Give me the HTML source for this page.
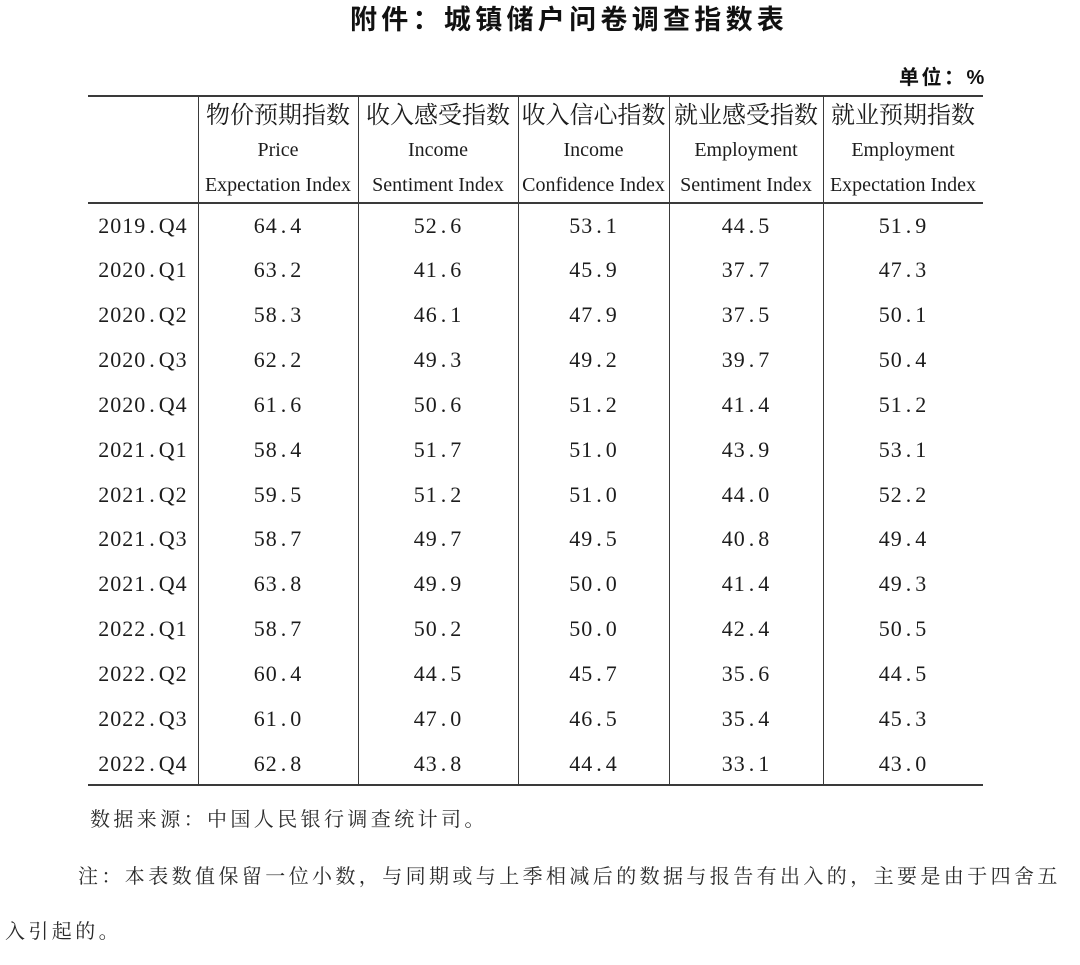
<!DOCTYPE html>
<html>
<head>
<meta charset="utf-8">
<style>
  html,body{margin:0;padding:0;background:#fff;}
  #c{position:relative;width:1080px;height:965px;overflow:hidden;background:#fff;color:#1c1c1c;}
  .abs{position:absolute;white-space:nowrap;}
  .title{left:350px;top:0px;height:40px;line-height:40px;font-family:"Liberation Sans","Noto Sans CJK SC",sans-serif;font-weight:bold;font-size:27px;letter-spacing:4.3px;color:#111;}
  .unit{left:899px;top:63px;height:30px;line-height:30px;font-family:"Liberation Sans","Noto Sans CJK SC",sans-serif;font-weight:bold;font-size:20px;letter-spacing:2.5px;color:#111;}
  .h{background:#3a3a3a;height:2px;left:88px;width:895px;}
  .v{background:#3a3a3a;width:1.5px;top:96px;height:690px;}
  .hc{font-family:"Liberation Serif","Noto Serif CJK SC",serif;font-size:24px;text-align:center;height:30px;line-height:30px;color:#1c1c1c;}
  .he{font-family:"Liberation Serif",serif;font-size:20px;text-align:center;height:30px;line-height:30px;color:#1c1c1c;}
  .row{position:absolute;left:88px;width:895px;height:44.85px;}
  .cell{position:absolute;top:0;height:44.85px;line-height:44.85px;text-align:center;font-family:"Liberation Serif",serif;font-size:22px;letter-spacing:1px;color:#1c1c1c;}
  .d{padding:0 3px 0 3px;}
  .c0{left:0;width:110px;}
  .c1{left:110px;width:160px;}
  .c2{left:270px;width:160px;}
  .c3{left:430px;width:151px;}
  .c4{left:581px;width:154px;}
  .c5{left:735px;width:160px;}
  .note{font-family:"Liberation Serif","Noto Serif CJK SC",serif;font-size:20px;letter-spacing:3.4px;color:#2a2a2a;height:30px;line-height:30px;}
</style>
</head>
<body>
<div id="c">
  <div class="abs title">附件：城镇储户问卷调查指数表</div>
  <div class="abs unit">单位：%</div>

  <div class="abs h" style="top:94.5px;"></div>
  <div class="abs h" style="top:201.5px;"></div>
  <div class="abs h" style="top:784px;"></div>

  <div class="abs v" style="left:197.5px;"></div>
  <div class="abs v" style="left:357.5px;"></div>
  <div class="abs v" style="left:517.5px;"></div>
  <div class="abs v" style="left:668.5px;"></div>
  <div class="abs v" style="left:822.5px;"></div>

  <!-- header Chinese -->
  <div class="abs hc" style="left:198px;width:160px;top:101px;">物价预期指数</div>
  <div class="abs hc" style="left:358px;width:160px;top:101px;">收入感受指数</div>
  <div class="abs hc" style="left:518px;width:151px;top:101px;">收入信心指数</div>
  <div class="abs hc" style="left:669px;width:154px;top:101px;">就业感受指数</div>
  <div class="abs hc" style="left:823px;width:160px;top:101px;">就业预期指数</div>
  <!-- header English line 1 -->
  <div class="abs he" style="left:198px;width:160px;top:135px;">Price</div>
  <div class="abs he" style="left:358px;width:160px;top:135px;">Income</div>
  <div class="abs he" style="left:518px;width:151px;top:135px;">Income</div>
  <div class="abs he" style="left:669px;width:154px;top:135px;">Employment</div>
  <div class="abs he" style="left:823px;width:160px;top:135px;">Employment</div>
  <!-- header English line 2 -->
  <div class="abs he" style="left:198px;width:160px;top:170px;">Expectation Index</div>
  <div class="abs he" style="left:358px;width:160px;top:170px;">Sentiment Index</div>
  <div class="abs he" style="left:518px;width:151px;top:170px;">Confidence Index</div>
  <div class="abs he" style="left:669px;width:154px;top:170px;">Sentiment Index</div>
  <div class="abs he" style="left:823px;width:160px;top:170px;">Expectation Index</div>

  <!-- data rows -->
  <div class="row" style="top:203.5px;"><div class="cell c0">2019<span class="d">.</span>Q4</div><div class="cell c1">64<span class="d">.</span>4</div><div class="cell c2">52<span class="d">.</span>6</div><div class="cell c3">53<span class="d">.</span>1</div><div class="cell c4">44<span class="d">.</span>5</div><div class="cell c5">51<span class="d">.</span>9</div></div>
  <div class="row" style="top:248.35px;"><div class="cell c0">2020<span class="d">.</span>Q1</div><div class="cell c1">63<span class="d">.</span>2</div><div class="cell c2">41<span class="d">.</span>6</div><div class="cell c3">45<span class="d">.</span>9</div><div class="cell c4">37<span class="d">.</span>7</div><div class="cell c5">47<span class="d">.</span>3</div></div>
  <div class="row" style="top:293.2px;"><div class="cell c0">2020<span class="d">.</span>Q2</div><div class="cell c1">58<span class="d">.</span>3</div><div class="cell c2">46<span class="d">.</span>1</div><div class="cell c3">47<span class="d">.</span>9</div><div class="cell c4">37<span class="d">.</span>5</div><div class="cell c5">50<span class="d">.</span>1</div></div>
  <div class="row" style="top:338.05px;"><div class="cell c0">2020<span class="d">.</span>Q3</div><div class="cell c1">62<span class="d">.</span>2</div><div class="cell c2">49<span class="d">.</span>3</div><div class="cell c3">49<span class="d">.</span>2</div><div class="cell c4">39<span class="d">.</span>7</div><div class="cell c5">50<span class="d">.</span>4</div></div>
  <div class="row" style="top:382.9px;"><div class="cell c0">2020<span class="d">.</span>Q4</div><div class="cell c1">61<span class="d">.</span>6</div><div class="cell c2">50<span class="d">.</span>6</div><div class="cell c3">51<span class="d">.</span>2</div><div class="cell c4">41<span class="d">.</span>4</div><div class="cell c5">51<span class="d">.</span>2</div></div>
  <div class="row" style="top:427.75px;"><div class="cell c0">2021<span class="d">.</span>Q1</div><div class="cell c1">58<span class="d">.</span>4</div><div class="cell c2">51<span class="d">.</span>7</div><div class="cell c3">51<span class="d">.</span>0</div><div class="cell c4">43<span class="d">.</span>9</div><div class="cell c5">53<span class="d">.</span>1</div></div>
  <div class="row" style="top:472.6px;"><div class="cell c0">2021<span class="d">.</span>Q2</div><div class="cell c1">59<span class="d">.</span>5</div><div class="cell c2">51<span class="d">.</span>2</div><div class="cell c3">51<span class="d">.</span>0</div><div class="cell c4">44<span class="d">.</span>0</div><div class="cell c5">52<span class="d">.</span>2</div></div>
  <div class="row" style="top:517.45px;"><div class="cell c0">2021<span class="d">.</span>Q3</div><div class="cell c1">58<span class="d">.</span>7</div><div class="cell c2">49<span class="d">.</span>7</div><div class="cell c3">49<span class="d">.</span>5</div><div class="cell c4">40<span class="d">.</span>8</div><div class="cell c5">49<span class="d">.</span>4</div></div>
  <div class="row" style="top:562.3px;"><div class="cell c0">2021<span class="d">.</span>Q4</div><div class="cell c1">63<span class="d">.</span>8</div><div class="cell c2">49<span class="d">.</span>9</div><div class="cell c3">50<span class="d">.</span>0</div><div class="cell c4">41<span class="d">.</span>4</div><div class="cell c5">49<span class="d">.</span>3</div></div>
  <div class="row" style="top:607.15px;"><div class="cell c0">2022<span class="d">.</span>Q1</div><div class="cell c1">58<span class="d">.</span>7</div><div class="cell c2">50<span class="d">.</span>2</div><div class="cell c3">50<span class="d">.</span>0</div><div class="cell c4">42<span class="d">.</span>4</div><div class="cell c5">50<span class="d">.</span>5</div></div>
  <div class="row" style="top:652px;"><div class="cell c0">2022<span class="d">.</span>Q2</div><div class="cell c1">60<span class="d">.</span>4</div><div class="cell c2">44<span class="d">.</span>5</div><div class="cell c3">45<span class="d">.</span>7</div><div class="cell c4">35<span class="d">.</span>6</div><div class="cell c5">44<span class="d">.</span>5</div></div>
  <div class="row" style="top:696.85px;"><div class="cell c0">2022<span class="d">.</span>Q3</div><div class="cell c1">61<span class="d">.</span>0</div><div class="cell c2">47<span class="d">.</span>0</div><div class="cell c3">46<span class="d">.</span>5</div><div class="cell c4">35<span class="d">.</span>4</div><div class="cell c5">45<span class="d">.</span>3</div></div>
  <div class="row" style="top:741.7px;"><div class="cell c0">2022<span class="d">.</span>Q4</div><div class="cell c1">62<span class="d">.</span>8</div><div class="cell c2">43<span class="d">.</span>8</div><div class="cell c3">44<span class="d">.</span>4</div><div class="cell c4">33<span class="d">.</span>1</div><div class="cell c5">43<span class="d">.</span>0</div></div>

  <div class="abs note" style="left:90px;top:805px;">数据来源：中国人民银行调查统计司。</div>
  <div class="abs note" style="left:78px;top:862px;">注：本表数值保留一位小数，与同期或与上季相减后的数据与报告有出入的，主要是由于四舍五</div>
  <div class="abs note" style="left:5px;top:917px;">入引起的。</div>
</div>
</body>
</html>
